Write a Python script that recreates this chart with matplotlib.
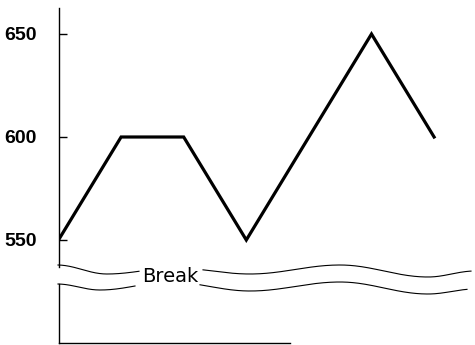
import matplotlib
matplotlib.use("Agg")
import matplotlib.pyplot as plt
import numpy as np
from matplotlib.lines import Line2D

# datos de la serie
periods = [0, 1, 2, 3, 4, 5, 6]
values = [550, 600, 600, 550, 600, 650, 600]
tick_values = [550, 600, 650]

W, H = 475, 345
fig = plt.figure(figsize=(W / 100, H / 100), dpi=100)


def px_box(x0, y0, x1, y1):
    # caja en pixeles (origen arriba a la izquierda) -> fraccion de figura
    return [x0 / W, 1 - y1 / H, (x1 - x0) / W, (y1 - y0) / H]


# eje superior con los datos
ax = fig.add_axes(px_box(58.5, 8, 475, 267))
ax.plot(periods, values, color='black', lw=2.3, solid_joinstyle='miter')
ax.set_xlim(0, (475 - 58.5) / 62.6)
ax.set_ylim(550 - 27 * 50 / 103, 550 + 232 * 50 / 103)
for s in ['top', 'right', 'bottom']:
    ax.spines[s].set_visible(False)
ax.spines['left'].set_linewidth(1.0)
ax.set_xticks([])
ax.set_yticks(tick_values)
ax.set_yticklabels([str(v) for v in tick_values], fontsize=14,
                   fontweight='bold', family='Liberation Sans')
ax.tick_params(axis='y', direction='in', length=6, width=1.0, pad=15.5)
ax.set_facecolor('none')

# eje inferior (parte tras el corte)
ax2 = fig.add_axes(px_box(58.5, 284, 290, 343))
ax2.set_xticks([])
ax2.set_yticks([])
for s in ['top', 'right']:
    ax2.spines[s].set_visible(False)
ax2.spines['left'].set_linewidth(1.0)
ax2.spines['bottom'].set_linewidth(1.0)
ax2.set_facecolor('none')


# lineas onduladas del corte
def wave(knots, xs):
    kx = np.array([k[0] for k in knots], float)
    ky = np.array([k[1] for k in knots], float)
    out = np.empty_like(xs)
    for i, x in enumerate(xs):
        j = np.clip(np.searchsorted(kx, x) - 1, 0, len(kx) - 2)
        t = (x - kx[j]) / (kx[j + 1] - kx[j])
        out[i] = ky[j] + (ky[j + 1] - ky[j]) * (1 - np.cos(np.pi * t)) / 2
    return out


top_knots = [(57, 265), (107, 274), (175, 268), (250, 274), (340, 265), (428, 277), (475, 271)]
low_knots = [(57, 284), (100, 290), (170, 282), (250, 291), (340, 282), (428, 294), (475, 289)]

for knots, segs in [(top_knots, [(58, 139), (203, 471)]),
                    (low_knots, [(58, 135), (200, 467)])]:
    for a, b in segs:
        xs = np.linspace(a, b, 200)
        ys = wave(knots, xs)
        fig.add_artist(Line2D(xs / W, 1 - ys / H, color='black', lw=0.8,
                              transform=fig.transFigure))

fig.text(170 / W, 1 - 282 / H, 'Break', fontsize=14, ha='center',
         va='baseline', family='DejaVu Sans')

plt.savefig('out.png', dpi=100)
